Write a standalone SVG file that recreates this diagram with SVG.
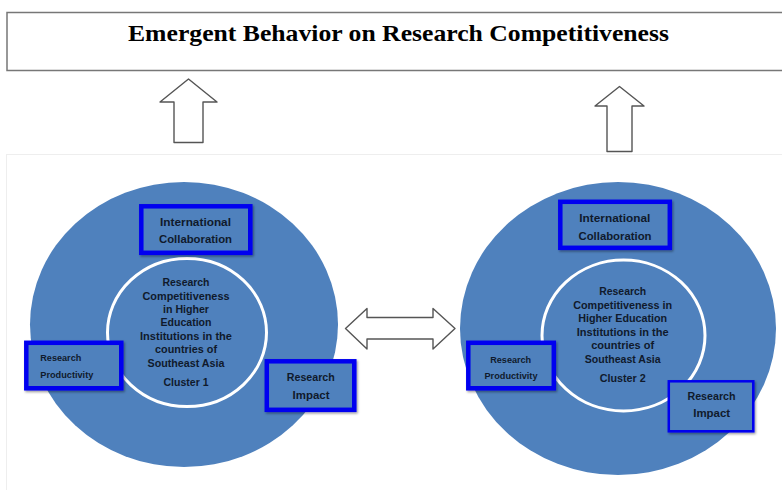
<svg xmlns="http://www.w3.org/2000/svg" width="782" height="490" viewBox="0 0 782 490">
<style>
.big{fill:#4f81bd}
.ring{fill:#4f81bd;stroke:#fff;stroke-width:3}
.box{fill:#4f81bd;stroke:#0000f0;stroke-width:4.5;filter:url(#sh)}
.thin{stroke-width:2.5}
.arrow{fill:#fff;stroke:#555;stroke-width:1.4;stroke-linejoin:round}
.t{font-family:"Liberation Sans",Arial,sans-serif;font-weight:700;font-size:11px;fill:#101a2c;text-anchor:middle}
.small{font-size:9px}
.s{text-anchor:start}
.title{font-family:"Liberation Serif",serif;font-weight:700;font-size:24px;fill:#000}
</style>
<defs>
<filter id="sh" x="-10%" y="-10%" width="125%" height="130%"><feDropShadow dx="1.2" dy="1.5" stdDeviation="1" flood-color="#000" flood-opacity="0.4"/></filter>
</defs>
<rect width="782" height="490" fill="#fff"/>
<g id="title-box">
<rect x="7" y="12.500" width="780" height="58" fill="#fff" stroke="#777" stroke-width="1.500"/>
<text class="title" x="128" y="40.500" textLength="541" lengthAdjust="spacingAndGlyphs">Emergent Behavior on Research Competitiveness</text>
</g>
<g id="panel"><rect x="6.500" y="154.500" width="790" height="350" fill="#fff" stroke="#eee" stroke-width="1"/></g>
<g id="connectors">
<path class="arrow" d="M188.500 79L217 102H203V142.500H174V102H160Z"/>
<path class="arrow" d="M619.500 86.500L644 106H632V151.500H607V106H595Z"/>
<path class="arrow" d="M345.500 328.500L367 308.500V317.500H433V308.500L455 328.500L433 349V339H367V349Z"/>
</g>
<g id="cluster-1">
<ellipse class="big" cx="184" cy="324.500" rx="154" ry="142.500"/>
<ellipse class="ring" cx="187" cy="332.500" rx="79.500" ry="74"/>
<text class="t" x="186" y="285.500" textLength="47" lengthAdjust="spacingAndGlyphs">Research</text>
<text class="t" x="186" y="299.500" textLength="87" lengthAdjust="spacingAndGlyphs">Competitiveness</text>
<text class="t" x="186" y="312.500" textLength="46" lengthAdjust="spacingAndGlyphs">in Higher</text>
<text class="t" x="186" y="326" textLength="51" lengthAdjust="spacingAndGlyphs">Education</text>
<text class="t" x="186" y="340" textLength="92" lengthAdjust="spacingAndGlyphs">Institutions in the</text>
<text class="t" x="186" y="353" textLength="62" lengthAdjust="spacingAndGlyphs">countries of</text>
<text class="t" x="186" y="367" textLength="77" lengthAdjust="spacingAndGlyphs">Southeast Asia</text>
<text class="t" x="186" y="386" textLength="45" lengthAdjust="spacingAndGlyphs">Cluster 1</text>
</g>
<g id="collab-1">
<rect class="box" x="141.300" y="206.300" width="109" height="46.500"/>
<text class="t" x="195.500" y="226" textLength="71" lengthAdjust="spacingAndGlyphs">International</text>
<text class="t" x="195.500" y="243" textLength="73" lengthAdjust="spacingAndGlyphs">Collaboration</text>
</g>
<g id="productivity-1">
<rect class="box" x="26.300" y="342.800" width="95" height="45.500"/>
<text class="t s small" x="40.300" y="361.300" textLength="41" lengthAdjust="spacingAndGlyphs">Research</text>
<text class="t s small" x="40.300" y="377.500" textLength="53" lengthAdjust="spacingAndGlyphs">Productivity</text>
</g>
<g id="impact-1">
<rect class="box" x="266.800" y="361.300" width="87.500" height="48.500"/>
<text class="t" x="310.800" y="381.300" textLength="48" lengthAdjust="spacingAndGlyphs">Research</text>
<text class="t" x="311" y="398.500" textLength="37" lengthAdjust="spacingAndGlyphs">Impact</text>
</g>
<g id="cluster-2">
<ellipse class="big" cx="618" cy="328.500" rx="158" ry="146.500"/>
<ellipse class="ring" cx="623.500" cy="335.500" rx="81.500" ry="75.500"/>
<text class="t" x="622.700" y="295" textLength="47" lengthAdjust="spacingAndGlyphs">Research</text>
<text class="t" x="622.700" y="309" textLength="99" lengthAdjust="spacingAndGlyphs">Competitiveness in</text>
<text class="t" x="622.700" y="322" textLength="89" lengthAdjust="spacingAndGlyphs">Higher Education</text>
<text class="t" x="622.700" y="335.700" textLength="92" lengthAdjust="spacingAndGlyphs">Institutions in the</text>
<text class="t" x="622.700" y="349" textLength="63" lengthAdjust="spacingAndGlyphs">countries of</text>
<text class="t" x="622.700" y="362.700" textLength="76" lengthAdjust="spacingAndGlyphs">Southeast Asia</text>
<text class="t" x="622.700" y="382.300" textLength="46" lengthAdjust="spacingAndGlyphs">Cluster 2</text>
</g>
<g id="collab-2">
<rect class="box" x="560.300" y="201.800" width="109.500" height="46"/>
<text class="t" x="614.800" y="222.300" textLength="71" lengthAdjust="spacingAndGlyphs">International</text>
<text class="t" x="615" y="240" textLength="73" lengthAdjust="spacingAndGlyphs">Collaboration</text>
</g>
<g id="productivity-2">
<rect class="box" x="468.300" y="342.800" width="85.500" height="45.500"/>
<text class="t small" x="510.700" y="362.700" textLength="41" lengthAdjust="spacingAndGlyphs">Research</text>
<text class="t small" x="511" y="378.800" textLength="53" lengthAdjust="spacingAndGlyphs">Productivity</text>
</g>
<g id="impact-2">
<rect class="box thin" x="668.800" y="381.300" width="84.500" height="50"/>
<text class="t" x="711.500" y="400" textLength="48" lengthAdjust="spacingAndGlyphs">Research</text>
<text class="t" x="711.700" y="417.200" textLength="37" lengthAdjust="spacingAndGlyphs">Impact</text>
</g>
</svg>
